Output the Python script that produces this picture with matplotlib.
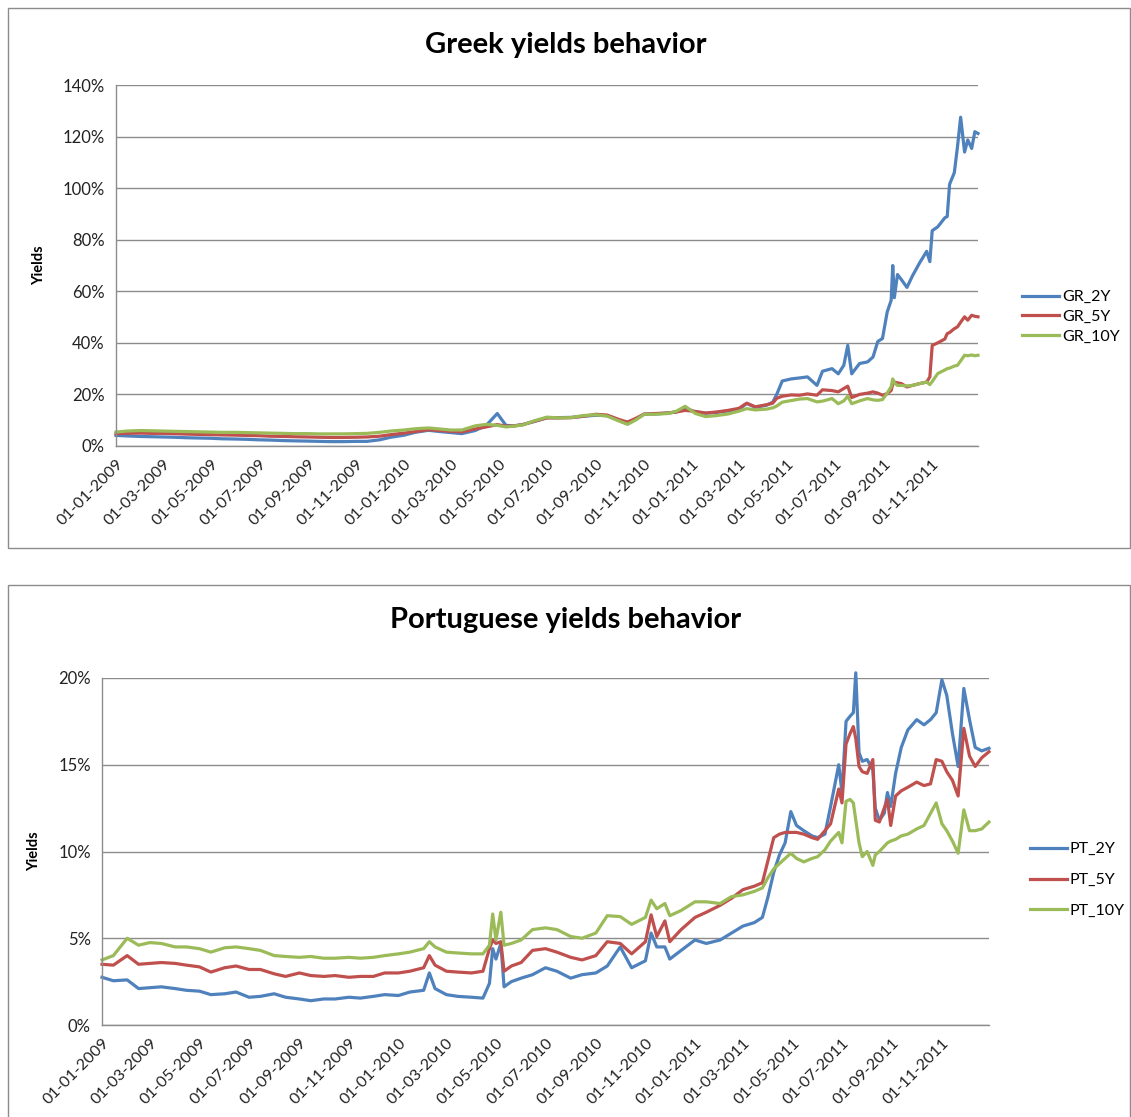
import numpy as np
import pandas as pd
import matplotlib
matplotlib.use("Agg")
import matplotlib.pyplot as plt
import matplotlib.dates as mdates
from matplotlib.patches import Rectangle
from matplotlib.ticker import PercentFormatter, MultipleLocator

plt.rcParams['font.family'] = ['Lato', 'DejaVu Sans']

# ---- Greek government bond yields (%) ----
gr_dates = pd.to_datetime([
    '2009-01-01', '2009-01-15', '2009-02-01', '2009-02-15', '2009-03-01', '2009-03-15',
    '2009-04-01', '2009-04-15', '2009-05-01', '2009-05-15', '2009-06-01', '2009-06-15',
    '2009-07-01', '2009-07-15', '2009-08-01', '2009-08-15', '2009-09-01', '2009-09-15',
    '2009-10-01', '2009-10-15', '2009-11-01', '2009-11-15', '2009-12-01', '2009-12-15',
    '2010-01-01', '2010-01-15', '2010-02-01', '2010-02-15', '2010-03-01', '2010-03-15',
    '2010-04-01', '2010-04-15', '2010-04-29', '2010-05-10', '2010-05-20', '2010-06-01',
    '2010-06-15', '2010-07-01', '2010-07-15', '2010-08-01', '2010-08-15', '2010-09-01',
    '2010-09-15', '2010-10-01', '2010-10-11', '2010-10-22', '2010-11-01', '2010-11-15',
    '2010-12-01', '2010-12-12', '2010-12-23',
    '2011-01-05', '2011-01-18', '2011-02-01', '2011-02-15', '2011-03-01', '2011-03-11',
    '2011-03-22', '2011-04-05', '2011-04-13', '2011-04-18', '2011-04-25', '2011-05-06',
    '2011-05-17', '2011-05-27', '2011-06-08', '2011-06-15', '2011-06-27', '2011-07-05',
    '2011-07-12', '2011-07-17', '2011-07-22', '2011-08-01', '2011-08-11', '2011-08-18',
    '2011-08-24', '2011-08-30', '2011-09-05', '2011-09-10', '2011-09-12', '2011-09-14',
    '2011-09-18', '2011-09-23', '2011-09-30', '2011-10-07', '2011-10-16', '2011-10-25',
    '2011-10-29', '2011-11-01', '2011-11-08', '2011-11-17', '2011-11-20', '2011-11-23',
    '2011-11-29', '2011-12-03', '2011-12-07', '2011-12-12', '2011-12-16', '2011-12-21',
    '2011-12-25', '2011-12-29',
])

gr_2y = [
    4.1, 3.9, 3.7, 3.6, 3.5, 3.4, 3.2, 3.1, 3.0, 2.8, 2.7, 2.6,
    2.4, 2.3, 2.1, 2.0, 1.9, 1.8, 1.7, 1.7, 1.8, 1.8, 2.4, 3.4,
    4.2, 5.3, 6.1, 5.6, 5.2, 4.8, 6.0, 8.0, 12.6, 8.0, 7.8, 8.4,
    9.5, 11.0, 11.0, 11.1, 11.5, 11.9, 11.8, 9.8, 8.6, 10.5, 12.3, 12.4,
    12.8, 13.2, 14.8,
    13.2, 12.7, 13.0, 13.6, 14.2, 16.5, 15.0, 15.8, 17.0, 20.0, 25.2, 26.0,
    26.4, 26.8, 23.5, 29.0, 30.0, 28.0, 31.3, 39.0, 28.0, 32.0, 32.6, 34.5,
    40.5, 41.7, 52.0, 56.5, 70.0, 57.5, 66.5, 64.5, 61.5, 66.0, 71.0, 75.5,
    71.5, 83.5, 85.0, 88.5, 89.0, 101.5, 106.0, 116.0, 127.5, 114.0, 118.7, 115.4,
    121.9, 121.2,
]
gr_5y = [
    4.8, 4.9, 5.0, 4.9, 4.9, 4.8, 4.6, 4.5, 4.4, 4.3, 4.2, 4.1,
    4.0, 3.8, 3.7, 3.6, 3.5, 3.4, 3.3, 3.3, 3.4, 3.5, 3.8, 4.4,
    5.0, 5.6, 6.3, 6.0, 5.7, 5.5, 6.6, 7.4, 8.3, 7.7, 7.8, 8.3,
    9.6, 10.9, 10.9, 11.0, 11.5, 12.3, 12.0, 10.2, 9.3, 10.8, 12.4, 12.6,
    12.8, 13.2, 13.8,
    13.4, 12.8, 13.2, 13.8, 14.6, 16.6, 15.2, 16.0, 16.6, 18.5, 19.3, 19.8,
    19.7, 20.2, 19.7, 21.8, 21.5, 21.0, 22.3, 23.2, 18.8, 20.0, 20.5, 21.0,
    20.5, 19.7, 20.3, 21.5, 24.0, 24.8, 24.5, 24.2, 22.9, 23.5, 24.2, 24.8,
    26.8, 39.0, 40.0, 41.5, 43.6, 44.0, 45.5, 46.2, 48.0, 50.1, 48.8, 50.7,
    50.3, 50.1,
]
gr_10y = [
    5.4, 5.8, 6.0, 5.9, 5.8, 5.7, 5.6, 5.5, 5.4, 5.3, 5.3, 5.2,
    5.1, 5.0, 4.9, 4.8, 4.8, 4.7, 4.7, 4.7, 4.8, 4.9, 5.3, 5.8,
    6.2, 6.7, 7.0, 6.6, 6.2, 6.2, 7.8, 8.4, 8.0, 7.4, 7.7, 8.2,
    9.8, 11.2, 10.9, 11.0, 11.8, 12.1, 11.6, 9.6, 8.4, 10.2, 12.3, 12.3,
    12.6, 13.5, 15.4,
    12.6, 11.4, 11.8, 12.4, 13.5, 14.5, 14.0, 14.3, 14.8, 15.5, 17.0, 17.6,
    18.2, 18.4, 17.1, 17.4, 18.4, 16.4, 17.5, 19.3, 16.4, 17.5, 18.4, 17.9,
    17.7, 18.0, 20.5, 23.0, 26.0, 24.5, 23.5, 23.5, 23.3, 23.5, 24.2, 24.8,
    23.8, 25.0, 28.1, 29.5, 30.0, 30.2, 31.0, 31.3, 33.0, 35.2, 35.0, 35.3,
    35.0, 35.2,
]

# ---- Portuguese government bond yields (%) ----
pt_dates = pd.to_datetime([
    '2009-01-01', '2009-01-15', '2009-02-01', '2009-02-15', '2009-03-01', '2009-03-15',
    '2009-04-01', '2009-04-15', '2009-05-01', '2009-05-15', '2009-06-01', '2009-06-15',
    '2009-07-01', '2009-07-15', '2009-08-01', '2009-08-15', '2009-09-01', '2009-09-15',
    '2009-10-01', '2009-10-15', '2009-11-01', '2009-11-15', '2009-12-01', '2009-12-15',
    '2010-01-01', '2010-01-15', '2010-02-01', '2010-02-08', '2010-02-15', '2010-03-01',
    '2010-03-15', '2010-04-01', '2010-04-15', '2010-04-23', '2010-04-27', '2010-05-01',
    '2010-05-07', '2010-05-11', '2010-05-20', '2010-06-01', '2010-06-15', '2010-07-01',
    '2010-07-15', '2010-08-01', '2010-08-15', '2010-09-01', '2010-09-15', '2010-10-01',
    '2010-10-15', '2010-11-01', '2010-11-08', '2010-11-15', '2010-11-25', '2010-12-01',
    '2010-12-15',
    '2011-01-01', '2011-01-15', '2011-02-01', '2011-02-15', '2011-03-01', '2011-03-15',
    '2011-03-25', '2011-04-01', '2011-04-08', '2011-04-15', '2011-04-22', '2011-04-29',
    '2011-05-06', '2011-05-15', '2011-05-25', '2011-06-01', '2011-06-10', '2011-06-17',
    '2011-06-27', '2011-07-01', '2011-07-06', '2011-07-11', '2011-07-15', '2011-07-18',
    '2011-07-22', '2011-07-26', '2011-08-01', '2011-08-08', '2011-08-11', '2011-08-16',
    '2011-08-22', '2011-08-26', '2011-08-30', '2011-09-05', '2011-09-12', '2011-09-20',
    '2011-10-01', '2011-10-10', '2011-10-18', '2011-10-25', '2011-11-01', '2011-11-07',
    '2011-11-14', '2011-11-21', '2011-11-28', '2011-12-05', '2011-12-12', '2011-12-20',
    '2011-12-29',
])

pt_2y = [
    2.75, 2.55, 2.6, 2.1, 2.15, 2.2, 2.1, 2.0, 1.95, 1.75, 1.8, 1.9,
    1.6, 1.65, 1.8, 1.6, 1.5, 1.4, 1.5, 1.5, 1.6, 1.55, 1.65, 1.75,
    1.7, 1.9, 2.0, 3.0, 2.1, 1.75, 1.65, 1.6, 1.55, 2.4, 4.4, 3.8,
    4.7, 2.2, 2.5, 2.7, 2.9, 3.3, 3.1, 2.7, 2.9, 3.0, 3.4, 4.5,
    3.3, 3.7, 5.3, 4.5, 4.5, 3.8, 4.3,
    4.9, 4.7, 4.9, 5.3, 5.7, 5.9, 6.2, 7.4, 8.8, 9.8, 10.5, 12.3,
    11.5, 11.2, 10.9, 10.8, 11.0, 12.6, 15.0, 13.4, 17.5, 17.8, 18.0, 20.3,
    15.7, 15.2, 15.3, 14.7, 12.5, 11.8, 12.2, 13.4, 12.6, 14.5, 16.0, 17.0,
    17.6, 17.3, 17.6, 18.0, 19.9, 19.0, 16.8, 14.9, 19.4, 17.6, 16.0, 15.8,
    15.95,
]
pt_5y = [
    3.5, 3.45, 4.0, 3.5, 3.55, 3.6, 3.55, 3.45, 3.35, 3.05, 3.3, 3.4,
    3.2, 3.2, 2.95, 2.8, 3.0, 2.85, 2.8, 2.85, 2.75, 2.8, 2.8, 3.0,
    3.0, 3.1, 3.3, 4.0, 3.45, 3.1, 3.05, 3.0, 3.1, 4.4, 4.9, 4.7,
    4.8, 3.1, 3.4, 3.6, 4.3, 4.4, 4.2, 3.9, 3.75, 4.0, 4.8, 4.7,
    4.1, 4.8, 6.35, 5.1, 6.0, 4.8, 5.5,
    6.2, 6.5, 6.9, 7.3, 7.8, 8.0, 8.2, 9.5, 10.8, 11.0, 11.1, 11.1,
    11.1, 11.0, 10.8, 10.7, 11.2, 11.6, 13.6, 12.8, 16.2, 16.8, 17.2, 16.5,
    14.9, 14.6, 14.5, 15.3, 11.8, 11.7, 12.5, 13.0, 11.5, 13.2, 13.5, 13.7,
    14.0, 13.8, 13.9, 15.3, 15.2, 14.6, 14.1, 13.2, 17.1, 15.5, 14.9, 15.4,
    15.75,
]
pt_10y = [
    3.75, 4.0, 5.0, 4.6, 4.75, 4.7, 4.5, 4.5, 4.4, 4.2, 4.45, 4.5,
    4.4, 4.3, 4.0, 3.95, 3.9, 3.95, 3.85, 3.85, 3.9, 3.85, 3.9, 4.0,
    4.1, 4.2, 4.4, 4.8, 4.5, 4.2, 4.15, 4.1, 4.1, 4.6, 6.4, 4.9,
    6.5, 4.6, 4.7, 4.9, 5.5, 5.6, 5.5, 5.1, 5.0, 5.3, 6.3, 6.25,
    5.8, 6.2, 7.2, 6.7, 7.0, 6.3, 6.6,
    7.1, 7.1, 7.0, 7.4, 7.5, 7.7, 7.9, 8.5, 9.0, 9.3, 9.6, 9.9,
    9.6, 9.4, 9.6, 9.7, 10.1, 10.6, 11.1, 10.5, 12.9, 13.0, 12.8, 11.8,
    10.5, 9.7, 10.0, 9.2, 9.8, 10.0, 10.3, 10.5, 10.6, 10.7, 10.9, 11.0,
    11.3, 11.5, 12.2, 12.8, 11.6, 11.2, 10.6, 9.9, 12.4, 11.2, 11.2, 11.3,
    11.7,
]

colors = ['#4F81BD', '#C0504D', '#9BBB59']
grid_col = '#8C8C8C'

W, H = 1131, 1117
fig = plt.figure(figsize=(W / 100, H / 100), dpi=100)


def fx(px):
    return px / W


def fy(py):
    return 1 - py / H


# chart borders
fig.patches.append(Rectangle((fx(8), fy(548)), fx(1122), 540 / H, transform=fig.transFigure,
                             fill=False, edgecolor=grid_col, lw=1.0))
fig.patches.append(Rectangle((fx(8), fy(1125)), fx(1122), 540 / H, transform=fig.transFigure,
                             fill=False, edgecolor=grid_col, lw=1.0))


def draw_chart(rect, dates, series, labels, ymax, ystep, title, title_y, leg_x, leg_y, leg_space):
    ax = fig.add_axes(rect)
    for vals, c, lab in zip(series, colors, labels):
        ax.plot(dates, vals, color=c, lw=2.3, label=lab, clip_on=False, solid_joinstyle='round')
    ax.set_xlim(dates[0], dates[-1])
    ax.set_ylim(0, ymax)
    ax.yaxis.set_major_locator(MultipleLocator(ystep))
    ax.yaxis.set_major_formatter(PercentFormatter(100, decimals=0))
    ax.grid(axis='y', color=grid_col, lw=1.0)
    ax.set_axisbelow(True)
    ax.xaxis.set_major_locator(mdates.MonthLocator(bymonth=[1, 3, 5, 7, 9, 11]))
    ax.xaxis.set_major_formatter(mdates.DateFormatter('%d-%m-%Y'))
    for s in ['top', 'right']:
        ax.spines[s].set_visible(False)
    for s in ['left', 'bottom']:
        ax.spines[s].set_color(grid_col)
        ax.spines[s].set_linewidth(1.0)
    ax.tick_params(length=0, colors='#222222', pad=8)
    ax.tick_params(axis='y', labelsize=12)
    ax.tick_params(axis='x', labelsize=11.5)
    plt.setp(ax.get_xticklabels(), rotation=45, ha='right', va='top', rotation_mode='anchor')
    ax.set_ylabel('Yields', fontsize=10.5, fontweight='bold', labelpad=12)
    fig.text(0.5, title_y, title, ha='center', va='center', fontsize=21, fontweight='bold')
    ax.legend(loc='center left', bbox_to_anchor=(leg_x, leg_y), bbox_transform=fig.transFigure,
              frameon=False, fontsize=11.5, handlelength=2.3, handletextpad=0.2,
              labelspacing=leg_space, borderpad=0, borderaxespad=0)
    return ax


draw_chart([fx(116), fy(446), fx(862), 361 / H], gr_dates, [gr_2y, gr_5y, gr_10y],
           ['GR_2Y', 'GR_5Y', 'GR_10Y'], 140, 20, 'Greek yields behavior', fy(45),
           fx(1022), fy(317), 0.35)
draw_chart([fx(102), fy(1025), fx(887), 347 / H], pt_dates, [pt_2y, pt_5y, pt_10y],
           ['PT_2Y', 'PT_5Y', 'PT_10Y'], 20, 5, 'Portuguese yields behavior', fy(620),
           fx(1030), fy(880), 1.05)

fig.savefig('out.png', dpi=100)
